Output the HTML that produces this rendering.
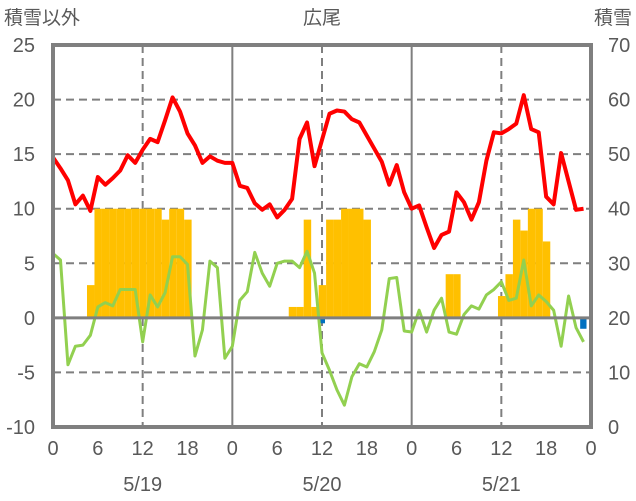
<!DOCTYPE html>
<html><head><meta charset="utf-8"><style>
body{margin:0;background:#fff;}
svg{display:block;font-family:"Liberation Sans","Noto Sans CJK JP",sans-serif;}
</style></head><body>
<svg id="chart" width="636" height="501" viewBox="0 0 636 501" xmlns="http://www.w3.org/2000/svg">
<g id="grid"></g>
<g id="bars"></g>
<g id="lines"></g>
<g id="frame"></g>
<g id="labels"></g>
<text x="4" y="24" font-size="19" fill="#595959">積雪以外</text>
<text x="322" y="24" font-size="19" fill="#595959" text-anchor="middle">広尾</text>
<text x="632" y="24" font-size="19" fill="#595959" text-anchor="end">積雪</text>
</svg>
<script>
const red=[14.7,13.7,12.6,10.4,11.2,9.8,12.9,12.2,12.8,13.5,14.9,14.2,15.4,16.4,16.1,18.1,20.2,18.9,16.9,15.8,14.2,14.8,14.4,14.2,
14.2,12.1,11.9,10.5,9.9,10.4,9.2,9.9,10.9,16.4,17.9,13.9,16.3,18.7,19.0,18.9,18.2,17.9,16.7,15.5,14.3,12.2,14.0,11.5,
10.0,10.3,8.3,6.4,7.6,7.9,11.5,10.6,9.0,10.6,14.4,17.0,16.9,17.3,17.8,20.4,17.3,17.0,11.1,10.4,15.1,12.5,9.9,10.0];
const green=[5.9,5.3,-4.3,-2.6,-2.5,-1.6,1.0,1.4,1.1,2.6,2.6,2.6,-2.2,2.1,1.0,2.3,5.6,5.6,4.9,-3.5,-1.1,5.2,4.6,-3.7,
-2.6,1.6,2.4,6.0,4.1,2.9,5.0,5.2,5.2,4.6,6.1,4.1,-3.2,-4.8,-6.6,-8.0,-5.4,-4.2,-4.5,-3.1,-1.1,3.6,3.7,-1.2,
-1.3,0.7,-1.3,0.7,1.8,-1.3,-1.5,0.3,1.1,0.8,2.1,2.6,3.3,1.6,1.8,5.3,1.1,2.1,1.5,0.7,-2.6,2.0,-0.9,-2.2];
const snowHours=[5,6,7,8,9,10,11,12,13,14,15,16,17,18,32,33,34,35,36,37,38,39,40,41,42,53,54,60,61,62,63,64,65,66];
const snowVals=[3,10,10,10,10,10,10,10,10,10,9,10,10,9,1,1,9,1,3,9,9,10,10,10,9,4,4,2,4,9,8,10,10,7];
const blueHours=[36,71];
const blueVals=[-0.5,-1];
const leftTicks=[25,20,15,10,5,0,-5,-10];
const rightTicks=[70,60,50,40,30,20,10,0];
const hourTicks=[0,6,12,18,24,30,36,42,48,54,60,66,72];
const hourLabels=["0","6","12","18","0","6","12","18","0","6","12","18","0"];
const dates=["5/19","5/20","5/21"];

const X0=53,X1=591,Y0=45,Y1=427;
const x=h=>X0+(X1-X0)*h/72;
const y=v=>Y0+(25-v)*(Y1-Y0)/35;
const yr=v=>Y0+(70-v)*(Y1-Y0)/70;
const NS="http://www.w3.org/2000/svg";
function mk(tag,parent,attrs){const e=document.createElementNS(NS,tag);for(const k in attrs)e.setAttribute(k,attrs[k]);parent.appendChild(e);return e;}
const grid=document.getElementById('grid'),bars=document.getElementById('bars'),lines=document.getElementById('lines'),frame=document.getElementById('frame'),labels=document.getElementById('labels');

leftTicks.forEach(v=>{if(v===25||v===-10||v===0)return;
 const l=mk('line',grid,{x1:X0,x2:X1,y1:y(v),y2:y(v),stroke:'#7f7f7f','stroke-width':2,'stroke-dasharray':'8,5'});
 
 });
[12,36,60].forEach(h=>{const l=mk('line',grid,{x1:x(h),x2:x(h),y1:Y0,y2:Y1,stroke:'#7f7f7f','stroke-width':2,'stroke-dasharray':'8,5'});
 
 });
[24,48].forEach(h=>{const l=mk('line',grid,{x1:x(h),x2:x(h),y1:Y0,y2:Y1,stroke:'#7f7f7f','stroke-width':2});
 
 });

snowHours.forEach((h,i)=>{const v=snowVals[i];
 const r=mk('rect',bars,{x:x(h-0.45),width:x(1)-X0,y:y(v),height:y(0)-y(v),fill:'#ffc000'});
 
 });
blueHours.forEach((h,i)=>{const v=blueVals[i];
 const r=mk('rect',bars,{x:x(h-0.45),width:(x(1)-X0)*0.85,y:y(0),height:y(v)-y(0),fill:'#0070c0'});
 
 });

const zl=mk('line',frame,{x1:X0,x2:X1,y1:y(0),y2:y(0),stroke:'#7f7f7f','stroke-width':3});



const gp=mk('polyline',lines,{points:green.map((v,i)=>x(i)+','+y(v)).join(' '),fill:'none',stroke:'#92d050','stroke-width':3,'stroke-linejoin':'round'});


const rp=mk('polyline',lines,{points:red.map((v,i)=>x(i)+','+y(v)).join(' '),fill:'none',stroke:'#ff0000','stroke-width':4,'stroke-linejoin':'round'});



const fr=mk('rect',frame,{x:X0,y:Y0,width:X1-X0,height:Y1-Y0,fill:'none',stroke:'#7f7f7f','stroke-width':4});



leftTicks.forEach(v=>{const t=mk('text',labels,{x:35,y:y(v)+7,'font-size':20,fill:'#595959','text-anchor':'end'});t.textContent=v;
 
 });
rightTicks.forEach(v=>{const t=mk('text',labels,{x:608,y:yr(v)+7,'font-size':20,fill:'#595959'});t.textContent=v;
 
 });
hourTicks.forEach((h,i)=>{const t=mk('text',labels,{x:x(h),y:455,'font-size':20,fill:'#595959','text-anchor':'middle'});t.textContent=hourLabels[i];
 
 });
dates.forEach((d,i)=>{const t=mk('text',labels,{x:x(12+24*i),y:491,'font-size':20,fill:'#595959','text-anchor':'middle'});t.textContent=d;
 
 });
</script>
</body></html>
